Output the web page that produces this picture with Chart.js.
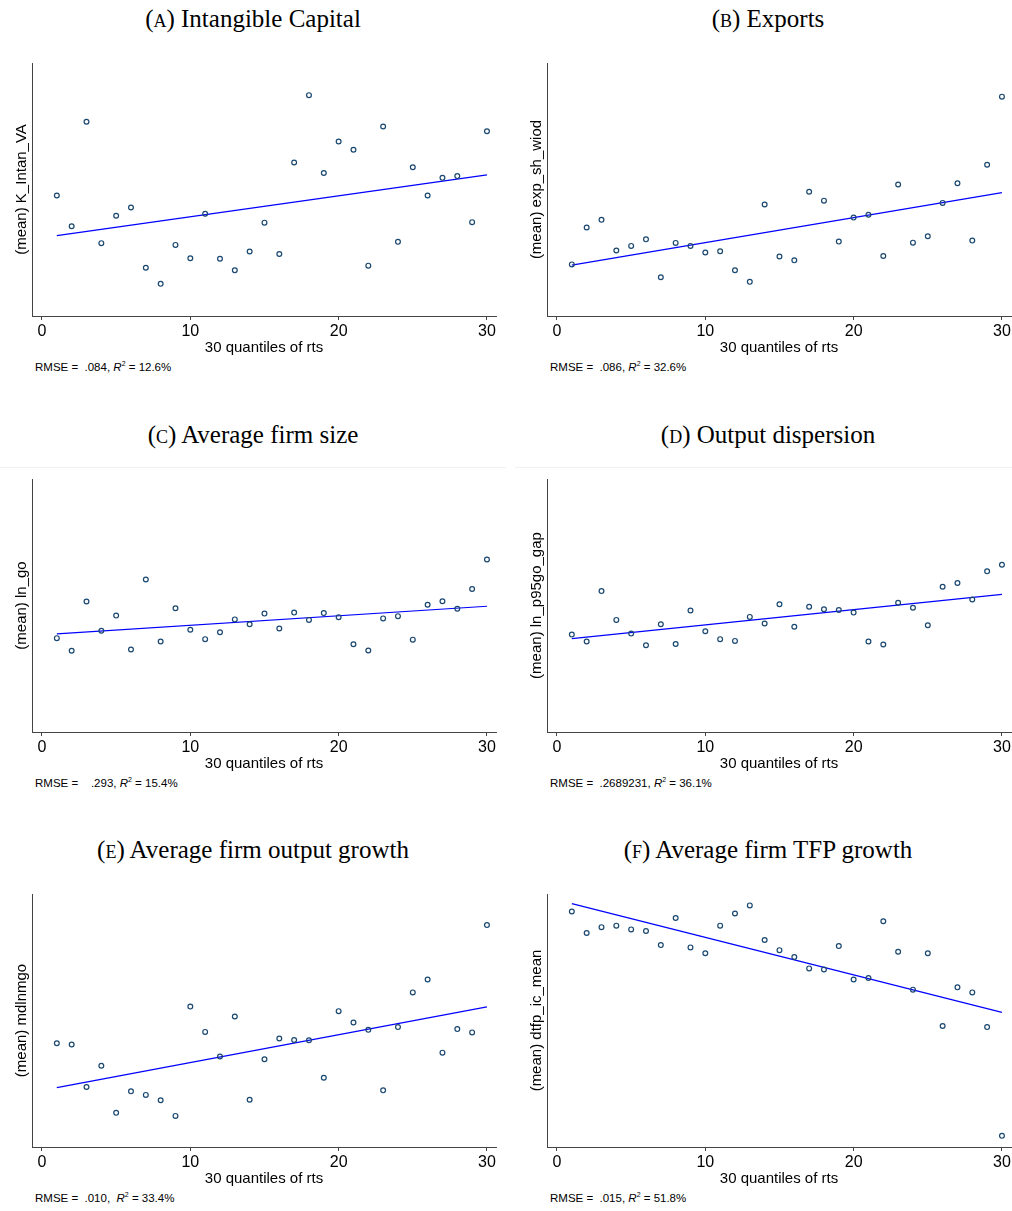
<!DOCTYPE html>
<html>
<head>
<meta charset="utf-8">
<script src="https://cdn.jsdelivr.net/npm/chart.js@4.4.1/dist/chart.umd.min.js"></script>
<style>
  html, body { margin: 0; padding: 0; background: #fff; overflow: hidden; width: 1012px; height: 1211px; }
  .panel { position: absolute; width: 506px; height: 410px; }
  .ttl { position: absolute; left: 0; top: 4px; width: 506px; text-align: center; line-height: 30px;
         font-family: "Liberation Serif", serif; font-size: 25px; color: #000; }
  .ttl span { font-variant: small-caps; }
  .cv { position: absolute; left: 0; top: 40px; }
  .note { position: absolute; left: 35px; top: 361px; font-family: "Liberation Sans", Arial, sans-serif;
          font-size: 11.5px; color: #000; white-space: pre; }
  .note sup { font-size: 7px; vertical-align: 5px; line-height: 0; }
  .sep { position: absolute; left: 0; top: 51px; width: 506px; border-top: 1px solid #f1f1f1; }
</style>
</head>
<body>
<script>
// 30 quantiles of rts (x values)
const quantiles = [1, 2, 3, 4, 5, 6, 7, 8, 9, 10, 11, 12, 13, 14, 15, 16, 17, 18, 19, 20, 21, 22, 23, 24, 25, 26, 27, 28, 29, 30];
const xTicks = [0, 10, 20, 30];

const panelLetters = ['(a)', '(b)', '(c)', '(d)', '(e)', '(f)'];
const titles = ['Intangible Capital', 'Exports', 'Average firm size',
                'Output dispersion', 'Average firm output growth', 'Average firm TFP growth'];
const yLabels = ['(mean) K_Intan_VA', '(mean) exp_sh_wiod', '(mean) ln_go',
                 '(mean) ln_p95go_gap', '(mean) mdlnmgo', '(mean) dtfp_ic_mean'];
const rmseText = ['.084', '.086', '  .293', '.2689231', '.010', '.015'];
const r2Text = ['12.6%', '32.6%', '15.4%', '36.1%', '33.4%', '51.8%'];

// y values: no tick labels in the original, so read on a 0-100 scale (axis bottom to top)
const meanA = [47.6, 35.5, 76.8, 28.8, 39.6, 42.9, 19.1, 12.7, 28.1, 22.8, 40.4, 22.6, 18.1, 25.5, 36.9,
               24.5, 60.7, 87.3, 56.5, 69.0, 65.7, 19.9, 74.9, 29.3, 58.8, 47.6, 54.6, 55.3, 37.1, 73.0];
const meanB = [20.4, 35.0, 38.0, 25.9, 27.7, 30.3, 15.3, 28.9, 27.7, 25.1, 25.6, 18.1, 13.5, 44.1, 23.5,
               22.0, 49.1, 45.6, 29.4, 38.9, 40.0, 23.7, 52.0, 29.0, 31.5, 44.7, 52.5, 29.8, 59.8, 86.7];
const meanC = [37.1, 32.1, 51.6, 40.0, 46.0, 32.6, 60.3, 35.8, 48.9, 40.4, 36.7, 39.4, 44.5, 42.6, 46.8,
               40.9, 47.2, 44.3, 47.0, 45.4, 34.7, 32.2, 44.9, 45.8, 36.5, 50.3, 51.7, 48.7, 56.5, 68.2];
const meanD = [38.5, 35.8, 55.7, 44.3, 38.9, 34.3, 42.6, 34.8, 48.0, 39.8, 36.7, 36.0, 45.5, 42.9, 50.5,
               41.6, 49.5, 48.5, 48.2, 47.2, 35.8, 34.6, 51.1, 49.1, 42.2, 57.4, 58.9, 52.4, 63.5, 66.1];
const meanE = [41.0, 40.5, 23.7, 32.1, 13.5, 22.0, 20.6, 18.5, 12.3, 55.5, 45.5, 35.8, 51.6, 18.7, 34.7,
               42.9, 42.3, 42.2, 27.4, 53.7, 49.2, 46.3, 22.4, 47.4, 61.1, 66.2, 37.3, 46.6, 45.3, 87.7];
const meanF = [93.1, 84.6, 86.9, 87.5, 86.0, 85.4, 79.8, 90.5, 78.9, 76.6, 87.5, 92.3, 95.5, 81.8, 77.8,
               75.1, 70.6, 70.2, 79.4, 66.2, 66.8, 89.2, 77.2, 62.2, 76.6, 47.8, 63.1, 61.1, 47.4, 4.4];

// fitted line, value at quantile 1 and quantile 30
const fitX = [1, 30];
const fitA = [31.8, 55.8];
const fitB = [20.1, 48.8];
const fitC = [38.8, 49.7];
const fitD = [36.9, 54.4];
const fitE = [23.5, 55.4];
const fitF = [96.2, 53.2];

const series = [meanA, meanB, meanC, meanD, meanE, meanF];
const fits = [fitA, fitB, fitC, fitD, fitE, fitF];

const panelPos = [[0, 0], [515, 0], [0, 416], [515, 416], [0, 831], [515, 831]];
const axisColor = '#444';
const sans = 'Liberation Sans';

series.forEach((vals, i) => {
  const panel = document.createElement('div');
  panel.className = 'panel';
  panel.style.left = panelPos[i][0] + 'px';
  panel.style.top = panelPos[i][1] + 'px';

  if (i === 2 || i === 3) {
    const sep = document.createElement('div');
    sep.className = 'sep';
    panel.appendChild(sep);
  }

  const ttl = document.createElement('div');
  ttl.className = 'ttl';
  const letter = document.createElement('span');
  letter.textContent = panelLetters[i];
  ttl.appendChild(letter);
  ttl.appendChild(document.createTextNode(' ' + titles[i]));
  panel.appendChild(ttl);

  const canvas = document.createElement('canvas');
  canvas.className = 'cv';
  canvas.width = 506;
  canvas.height = 318;
  panel.appendChild(canvas);

  const note = document.createElement('div');
  note.className = 'note';
  const sp = i === 4 ? ',  ' : ', ';
  note.innerHTML = 'RMSE =  ' + rmseText[i] + sp + '<i>R</i><sup>2</sup> = ' + r2Text[i];
  panel.appendChild(note);

  document.body.appendChild(panel);

  new Chart(canvas, {
    type: 'scatter',
    data: {
      datasets: [
        {
          data: quantiles.map((q, k) => ({ x: q, y: vals[k] })),
          pointRadius: 2.4,
          pointBorderWidth: 1.2,
          pointBorderColor: '#1a476f',
          pointBackgroundColor: 'rgba(255,255,255,0)',
          showLine: false
        },
        {
          type: 'line',
          data: fitX.map((q, k) => ({ x: q, y: fits[i][k] })),
          borderColor: '#0000ff',
          borderWidth: 1.2,
          pointRadius: 0,
          fill: false
        }
      ]
    },
    options: {
      responsive: false,
      animation: false,
      devicePixelRatio: 1,
      layout: { padding: { top: 23, right: 10, bottom: 0, left: 0 } },
      plugins: { legend: { display: false }, tooltip: { enabled: false } },
      scales: {
        x: {
          type: 'linear',
          min: -0.674,
          max: 30.61,
          afterBuildTicks: s => { s.ticks = xTicks.map(v => ({ value: v })); },
          afterFit: s => { s.height = 42; },
          grid: { display: true, drawOnChartArea: false, drawTicks: true, tickLength: 4, color: axisColor },
          border: { display: true, color: axisColor, width: 1 },
          ticks: { padding: 2, color: '#000', maxRotation: 0, autoSkip: false, font: { family: sans, size: 16 } },
          title: { display: true, text: '30 quantiles of rts', color: '#000',
                   font: { family: sans, size: 15 }, padding: { top: 0, bottom: 1 } }
        },
        y: {
          min: 0,
          max: 100,
          afterFit: s => { s.width = 32; },
          grid: { display: false },
          border: { display: true, color: axisColor, width: 1 },
          ticks: { display: false },
          title: { display: true, text: yLabels[i], color: '#000',
                   font: { family: sans, size: 15 }, padding: { top: 13, bottom: 0 } }
        }
      }
    }
  });
});
</script>
</body>
</html>
